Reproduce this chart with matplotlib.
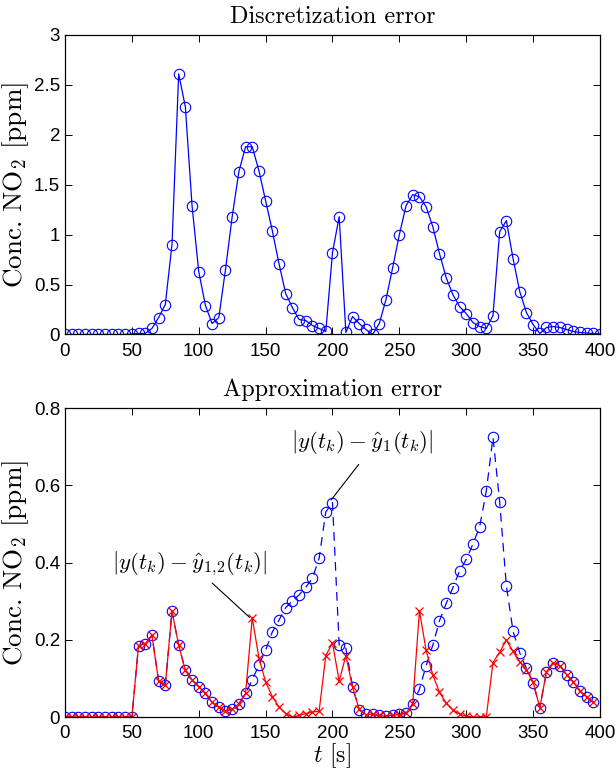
import numpy as np
import matplotlib
matplotlib.use("Agg")
import matplotlib.pyplot as plt

plt.rcParams['mathtext.fontset'] = 'cm'
plt.rcParams['axes.unicode_minus'] = False

# ---------------- data ----------------
t_top = np.arange(0, 405, 5)
disc_err = [0, 0, 0, 0, 0, 0, 0, 0, 0, 0,
            0.005, 0.01, 0.01, 0.06, 0.17, 0.30, 0.90, 2.61, 2.28, 1.29,
            0.63, 0.29, 0.11, 0.17, 0.65, 1.18, 1.63, 1.88, 1.88, 1.64,
            1.34, 1.04, 0.71, 0.41, 0.27, 0.15, 0.14, 0.09, 0.06, 0.03,
            0.82, 1.18, 0.02, 0.18, 0.11, 0.05, 0.00, 0.11, 0.35, 0.67,
            1.00, 1.29, 1.40, 1.38, 1.28, 1.08, 0.81, 0.57, 0.40, 0.28,
            0.21, 0.12, 0.08, 0.06, 0.19, 1.03, 1.14, 0.76, 0.43, 0.22,
            0.10, 0.01, 0.07, 0.08, 0.07, 0.05, 0.03, 0.02, 0.015, 0.01,
            0.005]

t_bot = np.arange(0, 400, 5)
approx_err_1 = [0, 0, 0, 0, 0, 0, 0, 0, 0, 0, 0,
                0.185, 0.19, 0.212, 0.093, 0.082, 0.274, 0.186, 0.121, 0.096,
                0.079, 0.061, 0.038, 0.025, 0.016, 0.02, 0.034, 0.061, 0.096,
                0.135, 0.173, 0.22, 0.251, 0.283, 0.301, 0.316, 0.336, 0.359,
                0.411, 0.531, 0.555, 0.186, 0.178, 0.079, 0.018, 0.007, 0.007,
                0.004, 0.002, 0.005, 0.007, 0.01, 0.034, 0.072, 0.133, 0.186,
                0.249, 0.294, 0.335, 0.378, 0.408, 0.448, 0.492, 0.585, 0.724,
                0.557, 0.34, 0.222, 0.166, 0.126, 0.089, 0.024, 0.117, 0.141,
                0.133, 0.11, 0.091, 0.068, 0.051, 0.038]
approx_err_12 = [0, 0, 0, 0, 0, 0, 0, 0, 0, 0, 0,
                 0.185, 0.19, 0.212, 0.093, 0.082, 0.274, 0.186, 0.121, 0.096,
                 0.079, 0.061, 0.038, 0.025, 0.016, 0.02, 0.034, 0.061, 0.257,
                 0.153, 0.091, 0.053, 0.026, 0.009, 0.0, 0.004, 0.009, 0.013,
                 0.015, 0.159, 0.192, 0.093, 0.159, 0.077, 0.02, 0.006, 0.007,
                 0.004, 0.002, 0.005, 0.006, 0.01, 0.035, 0.275, 0.173, 0.109,
                 0.064, 0.036, 0.018, 0.008, 0.002, 0.0, 0.0, 0.001, 0.141,
                 0.168, 0.199, 0.170, 0.143, 0.122, 0.091, 0.024, 0.117, 0.141,
                 0.133, 0.11, 0.091, 0.068, 0.051, 0.038]

top_yticks = [0, 0.5, 1, 1.5, 2, 2.5, 3]
top_yticklabels = ['0', '0.5', '1', '1.5', '2', '2.5', '3']
bot_yticks = [0, 0.2, 0.4, 0.6, 0.8]
bot_yticklabels = ['0', '0.2', '0.4', '0.6', '0.8']
xticks = [0, 50, 100, 150, 200, 250, 300, 350, 400]

label1 = r'$|y(t_k)-\hat{y}_1(t_k)|$'
label12 = r'$|y(t_k)-\hat{y}_{1,\!2}(t_k)|$'

# ---------------- figure ----------------
fig = plt.figure(figsize=(6.16, 7.70), dpi=100)
ax1 = fig.add_axes([0.1055, 0.5656, 0.8685, 0.389])
ax2 = fig.add_axes([0.1055, 0.0688, 0.8685, 0.4013])

tickfont = dict(family='Liberation Sans', size=13.5)
serif = 'cmr10'

for ax in (ax1, ax2):
    ax.set_xlim(0, 400)
    ax.set_xticks(xticks)
    ax.set_xticklabels([str(v) for v in xticks], fontdict=tickfont)
    ax.tick_params(direction='in', top=True, right=True, length=5, width=0.7)
    ax.tick_params(axis='x', pad=6)
    ax.tick_params(axis='y', pad=3.5)
    for s in ax.spines.values():
        s.set_linewidth(0.9)

# top panel
ax1.plot(t_top, disc_err, '-', color='#0000ff', lw=0.9, marker='o',
         ms=7.5, mfc='none', mec='#0000ff', mew=0.8)
ax1.set_ylim(0, 3)
ax1.set_yticks(top_yticks)
ax1.set_yticklabels(top_yticklabels, fontdict=tickfont)
ax1.set_title('Discretization error', family=serif, fontsize=17.5, pad=8.5)
ax1.set_ylabel(r'Conc. NO$_2$ [ppm]', family=serif, fontsize=19.5, labelpad=2)

# bottom panel
ax2.plot(t_bot, approx_err_1, color='#0000ff', lw=0.9, ls=(0, (7, 5)),
         marker='o', ms=7.5, mfc='none', mec='#0000ff', mew=0.8)
ax2.plot(t_bot, approx_err_12, '-', color='#ff0000', lw=0.9, marker='x',
         ms=5.5, mew=0.9)
ax2.set_ylim(0, 0.8)
ax2.set_yticks(bot_yticks)
ax2.set_yticklabels(bot_yticklabels, fontdict=tickfont)
ax2.set_title('Approximation error', family=serif, fontsize=17.5, pad=9)
ax2.set_ylabel(r'Conc. NO$_2$ [ppm]', family=serif, fontsize=19.5, labelpad=2)
ax2.set_xlabel(r'$t$ [s]', family=serif, fontsize=17, labelpad=-1)

# annotations
ax2.text(222, 0.712, label1, fontsize=16.5, ha='center', va='center')
ax2.annotate('', xy=(199, 0.562), xytext=(219.6, 0.654),
             arrowprops=dict(arrowstyle='-', lw=0.8, color='black',
                             shrinkA=0, shrinkB=0))
ax2.text(93, 0.398, label12, fontsize=16.5, ha='center', va='center')
ax2.annotate('', xy=(138, 0.258), xytext=(110, 0.347),
             arrowprops=dict(arrowstyle='-', lw=0.8, color='black',
                             shrinkA=0, shrinkB=0))

fig.savefig('out.png', dpi=100)
